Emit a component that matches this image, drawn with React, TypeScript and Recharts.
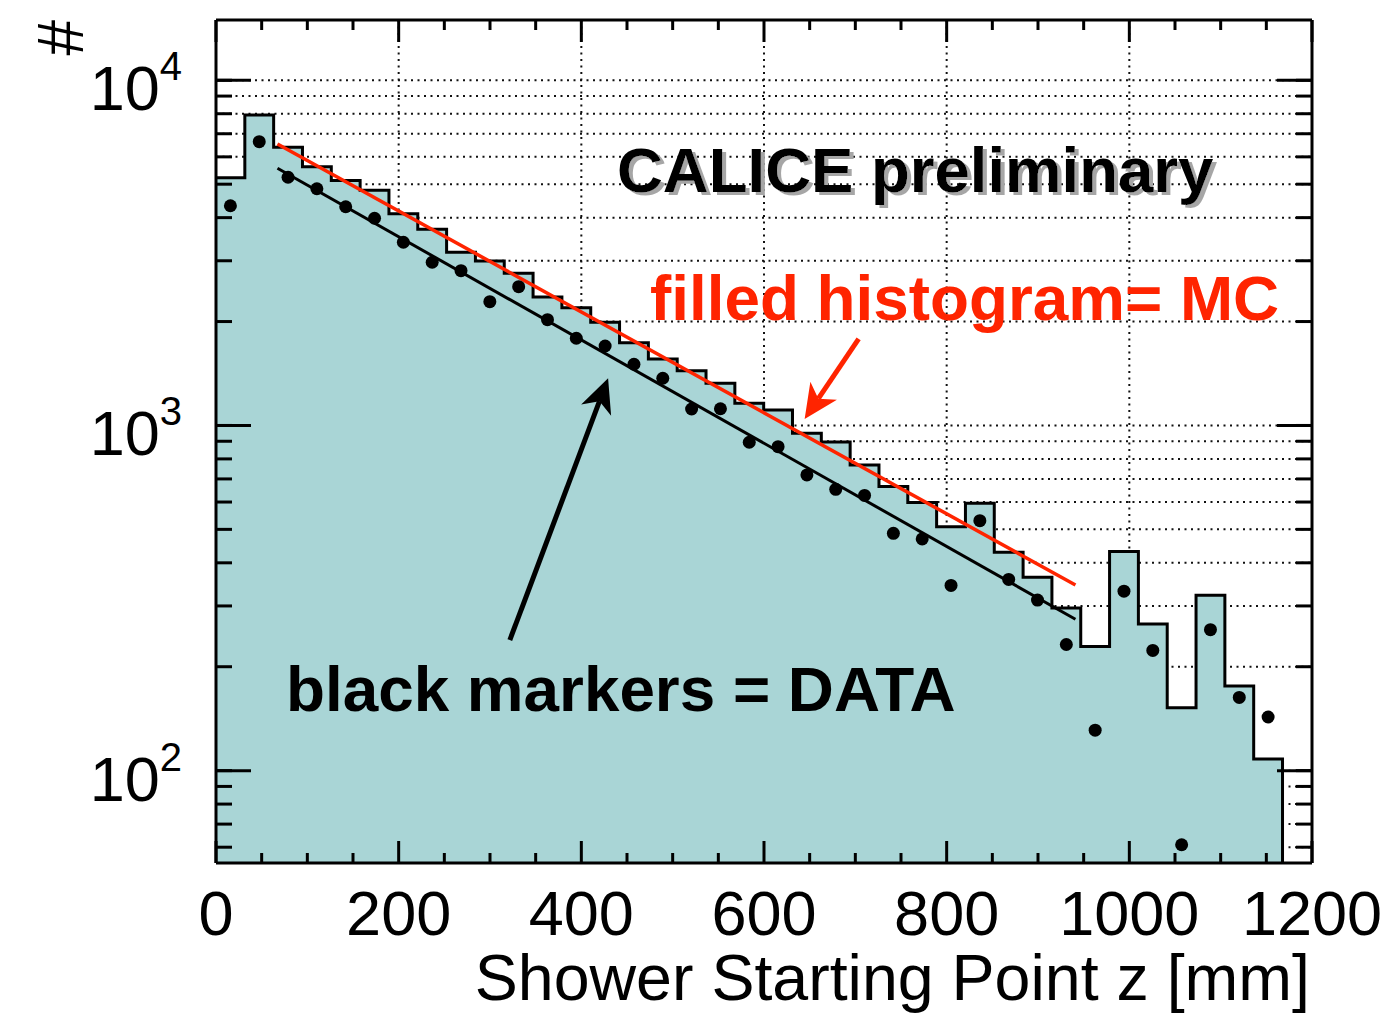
import React from "react";
import {
  ComposedChart,
  Area,
  Line,
  Scatter,
  XAxis,
  YAxis,
  CartesianGrid,
  ReferenceLine,
} from "recharts";

const FONT = "'Liberation Sans', Arial, Helvetica, sans-serif";
const RED = "#ff2400";
const FILL = "#a9d5d6";

// binning of the shower start histogram (mm)
const BIN_WIDTH = 31.56;

// MC histogram, entries per bin
const MC_COUNTS = [
  5222, 7934, 6395, 5618, 5124, 4800, 4108, 3702, 3175, 2996, 2760, 2357, 2194,
  1991, 1737, 1558, 1441, 1326, 1160, 1109, 949, 896, 768, 665, 598, 509, 595,
  429, 363, 296, 229, 431, 266, 152, 322, 176, 108,
];

// data markers, entries per bin
const DATA_COUNTS = [
  4331, 6638, 5236, 4850, 4302, 3983, 3394, 2970, 2808, 2284, 2524, 2025, 1789,
  1699, 1504, 1370, 1116, 1118, 894, 868, 719, 653, 627, 487, 469, 344, 530,
  358, 312, 232, 131, 331, 223, 61, 256, 163, 143,
];

// exponential fits (end points)
const MC_FIT = [
  { x: 67.3, y: 6538 },
  { x: 941, y: 345 },
];
const DATA_FIT = [
  { x: 67.3, y: 5560 },
  { x: 941, y: 274.5 },
];

// annotation arrows
const DATA_ARROW = [
  { x: 321.7, y: 239 },
  { x: 429.3, y: 1370 },
];
const MC_ARROW = [
  { x: 703.6, y: 1781 },
  { x: 644.5, y: 1044 },
];

const X_DOMAIN = [0, 1200];
const Y_DOMAIN = [54, 14950];
const X_MAJOR_TICKS = [0, 200, 400, 600, 800, 1000, 1200];
const X_MINOR_TICKS = [
  50, 100, 150, 250, 300, 350, 450, 500, 550, 650, 700, 750, 850, 900, 950,
  1050, 1100, 1150,
];
const Y_MAJOR_TICKS = [100, 1000, 10000];
const Y_MINOR_TICKS = [
  60, 70, 80, 90, 100, 200, 300, 400, 500, 600, 700, 800, 900, 1000, 2000,
  3000, 4000, 5000, 6000, 7000, 8000, 9000, 10000,
];

const histData = [
  ...MC_COUNTS.map((v, i) => ({ x: i * BIN_WIDTH, y: v })),
  { x: MC_COUNTS.length * BIN_WIDTH, y: Y_DOMAIN[0] },
];
const dataPoints = DATA_COUNTS.map((v, i) => ({ x: (i + 0.5) * BIN_WIDTH, y: v }));

const lineStyle = { stroke: "#000", strokeWidth: 3 };

const XTick = ({ x, y, payload }: any) => (
  <text x={x} y={y} textAnchor="middle" fontSize={63} fontFamily={FONT} fill="#000">
    {payload.value}
  </text>
);

const YTick = ({ x, y, payload }: any) => {
  const exp = Math.round(Math.log10(payload.value));
  return (
    <text x={x} y={y + 30} textAnchor="end" fontFamily={FONT} fill="#000">
      <tspan fontSize={63}>10</tspan>
      <tspan fontSize={40} dy={-30}>
        {exp}
      </tspan>
    </text>
  );
};

// tick marks only, no label
const NoLabel = () => <g />;

const makeArrow = (color: string) => (p: any) => {
  const { x1, y1, x2, y2 } = p;
  const dx = x2 - x1;
  const dy = y2 - y1;
  const len = Math.hypot(dx, dy) || 1;
  const ux = dx / len;
  const uy = dy / len;
  const nx = -uy;
  const ny = ux;
  const L = 34;
  const W = 16;
  const bx = x2 - ux * L;
  const by = y2 - uy * L;
  const mx = x2 - ux * L * 0.72;
  const my = y2 - uy * L * 0.72;
  return (
    <g>
      <line x1={x1} y1={y1} x2={mx} y2={my} stroke={color} strokeWidth={5} />
      <polygon
        points={`${x2},${y2} ${bx + nx * W},${by + ny * W} ${mx},${my} ${bx - nx * W},${by - ny * W}`}
        fill={color}
      />
    </g>
  );
};

// shared props for the frame axes (ticks drawn inward, ROOT style)
const xBase = {
  type: "number" as const,
  dataKey: "x",
  domain: X_DOMAIN,
  allowDataOverflow: true,
  interval: 0 as const,
  height: 1,
  tickLine: lineStyle,
};
const yBase = {
  type: "number" as const,
  scale: "log" as const,
  domain: Y_DOMAIN,
  allowDataOverflow: true,
  interval: 0 as const,
  width: 1,
  tickLine: lineStyle,
};

// the extra x axes (minor / mirrored) need a series to get a scale
const FRAME_X_AXES = ["xminor", "xtop", "xtopminor"];

export default function App() {
  return (
    <div style={{ position: "absolute", left: 0, top: 0, width: 1387, height: 1013, background: "#fff" }}>
      <ComposedChart
        width={1387}
        height={1013}
        margin={{ top: 18, right: 73, bottom: 148, left: 214 }}
      >
        <CartesianGrid
          xAxisId="x"
          yAxisId="yminor"
          stroke="#111"
          strokeWidth={2}
          strokeDasharray="2 4.5"
        />
        <Area
          xAxisId="x"
          yAxisId="y"
          data={histData}
          dataKey="y"
          type="stepAfter"
          baseValue={Y_DOMAIN[0]}
          stroke="#000"
          strokeWidth={3}
          fill={FILL}
          fillOpacity={1}
          isAnimationActive={false}
        />
        {FRAME_X_AXES.map((id) => (
          <Line
            key={id}
            xAxisId={id}
            yAxisId="y"
            data={MC_FIT}
            dataKey="y"
            stroke="none"
            dot={false}
            activeDot={false}
            legendType="none"
            isAnimationActive={false}
          />
        ))}
        <Line
          xAxisId="x"
          yAxisId="y"
          data={MC_FIT}
          dataKey="y"
          type="linear"
          stroke={RED}
          strokeWidth={3.5}
          dot={false}
          isAnimationActive={false}
        />
        <Line
          xAxisId="x"
          yAxisId="y"
          data={DATA_FIT}
          dataKey="y"
          type="linear"
          stroke="#000"
          strokeWidth={3}
          dot={false}
          isAnimationActive={false}
        />
        <Scatter
          xAxisId="x"
          yAxisId="y"
          data={dataPoints}
          dataKey="y"
          isAnimationActive={false}
          shape={(p: any) => <circle cx={p.cx} cy={p.cy} r={6.5} fill="#000" />}
        />
        <ReferenceLine xAxisId="x" yAxisId="y" segment={DATA_ARROW} shape={makeArrow("#000")} />
        <ReferenceLine xAxisId="x" yAxisId="y" segment={MC_ARROW} shape={makeArrow(RED)} />

        <XAxis
          {...xBase}
          xAxisId="x"
          ticks={X_MAJOR_TICKS}
          tickSize={-22}
          tickMargin={94}
          tick={XTick}
          axisLine={lineStyle}
        />
        <XAxis
          {...xBase}
          xAxisId="xminor"
          ticks={X_MINOR_TICKS}
          tickSize={-11}
          tick={NoLabel}
          axisLine={false}
        />
        <XAxis
          {...xBase}
          xAxisId="xtop"
          orientation="top"
          ticks={X_MAJOR_TICKS}
          tickSize={-22}
          tick={NoLabel}
          axisLine={lineStyle}
        />
        <XAxis
          {...xBase}
          xAxisId="xtopminor"
          orientation="top"
          ticks={X_MINOR_TICKS}
          tickSize={-11}
          tick={NoLabel}
          axisLine={false}
        />
        <YAxis
          {...yBase}
          yAxisId="y"
          ticks={Y_MAJOR_TICKS}
          tickSize={-35}
          tickMargin={69}
          tick={YTick}
          axisLine={lineStyle}
        />
        <YAxis
          {...yBase}
          yAxisId="yminor"
          ticks={Y_MINOR_TICKS}
          tickSize={-17}
          tick={NoLabel}
          axisLine={false}
        />
        <YAxis
          {...yBase}
          yAxisId="yright"
          orientation="right"
          ticks={Y_MAJOR_TICKS}
          tickSize={-35}
          tick={NoLabel}
          axisLine={lineStyle}
        />
        <YAxis
          {...yBase}
          yAxisId="yrightminor"
          orientation="right"
          ticks={Y_MINOR_TICKS}
          tickSize={-17}
          tick={NoLabel}
          axisLine={false}
        />
      </ComposedChart>

      <svg
        width={1387}
        height={1013}
        style={{ position: "absolute", left: 0, top: 0, pointerEvents: "none" }}
        fontFamily={FONT}
      >
        <defs>
          <filter id="shadow" x="-5%" y="-20%" width="110%" height="140%">
            <feOffset in="SourceAlpha" dx="4" dy="3" result="off" />
            <feFlood floodColor="#a6a6a6" />
            <feComposite in2="off" operator="in" result="grey" />
            <feMerge>
              <feMergeNode in="grey" />
              <feMergeNode in="SourceGraphic" />
            </feMerge>
          </filter>
        </defs>
        <text transform="translate(83,20) rotate(-90)" textAnchor="end" fontSize={64} fill="#000">
          #
        </text>
        <text x={1310} y={1000} textAnchor="end" fontSize={64.5} fill="#000">
          Shower Starting Point z [mm]
        </text>
        <text x={617} y={192} fontSize={63.5} fontWeight="bold" fill="#000" filter="url(#shadow)">
          CALICE preliminary
        </text>
        <text x={650} y={320} fontSize={63.8} fontWeight="bold" fill={RED}>
          filled histogram= MC
        </text>
        <text x={286} y={711} fontSize={63.8} fontWeight="bold" fill="#000">
          black markers = DATA
        </text>
      </svg>
    </div>
  );
}
